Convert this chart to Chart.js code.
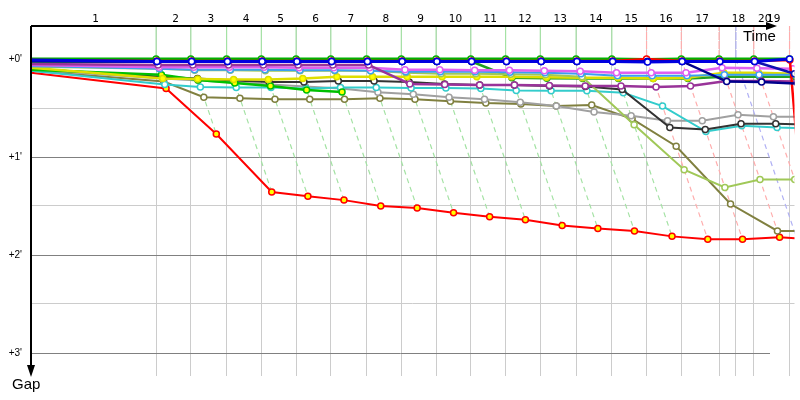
<!DOCTYPE html>
<html><head><meta charset="utf-8">
<script src="https://cdn.jsdelivr.net/npm/chart.js@4.4.1/dist/chart.umd.min.js"></script>
<style>html,body{margin:0;padding:0;background:#fff;overflow:hidden}#wrap{width:800px;height:400px}</style>
</head><body><div id="wrap"><canvas id="c" width="800" height="400"></canvas></div>
<script>
// ---- data ----
const lapNumbers = [1,2,3,4,5,6,7,8,9,10,11,12,13,14,15,16,17,18,19,20];
// leader's elapsed time (minutes) at the end of each lap
const lapTimes = [3.761,4.806,5.881,6.925,7.970,9.015,10.090,11.134,12.179,13.224,14.269,15.313,16.388,17.463,18.507,19.552,20.687,21.731,22.806,21.194];
const lapFlags = ['g','g','g','g','g','g','g','g','g','g','g','g','g','g','r','r','r','r','r','b'];
const gapTicks = [0,0.5,1,1.5,2,2.5,3];
const gapLabels = ["+0'","","+1'","","+2'","","+3'"];

// gap to leader (minutes): [start, lap1 .. lap19 (, lap20)]
const gapsGreen  = [0,    0,0,0,0,0,0,0,0,0,0,0,0,0,0,0.005,0,0,0,0];
const gapsRed2   = [0.01, 0.02,0.02,0.02,0.02,0.02,0.02,0.02,0.02,0.02,0.02,0.02,0.02,0.02,0.02,0,0.02,0.02,0.02,0.01,2.16];
const gapsNavy   = [0.02, 0.025,0.025,0.025,0.025,0.025,0.025,0.025,0.025,0.025,0.025,0.025,0.025,0.025,0.025,0.025,0.025,0.23,0.235,0.25];
const gapsBlue2  = [0.02, 0.025,0.025,0.025,0.025,0.025,0.025,0.025,0.025,0.025,0.025,0.025,0.025,0.025,0.025,0.025,0.025,0.025,0.025,0.15];
const gapsBlue   = [0.01, 0.025,0.025,0.025,0.025,0.025,0.025,0.025,0.025,0.025,0.025,0.025,0.025,0.025,0.025,0.03,0.025,0.025,0.025,0];
const gapsPurple = [0.05, 0.06,0.06,0.06,0.06,0.06,0.06,0.06,0.255,0.26,0.265,0.265,0.27,0.275,0.275,0.285,0.275,0.225,0.225,0.23];
const gapsViolet = [0.06, 0.085,0.085,0.085,0.085,0.09,0.09,0.09,0.11,0.11,0.115,0.115,0.12,0.125,0.14,0.14,0.14,0.09,0.095,0.1];
const gapsSky    = [0.07, 0.1,0.11,0.11,0.11,0.115,0.115,0.12,0.13,0.13,0.13,0.135,0.14,0.15,0.17,0.17,0.17,0.16,0.16,0.16];
const gapsKhaki  = [0.08, 0.1,0.115,0.115,0.12,0.12,0.12,0.12,0.14,0.15,0.15,0.155,0.16,0.18,0.67,1.13,1.31,1.23,1.23,1.23];
const gapsYellow = [0.09, 0.2,0.205,0.21,0.21,0.2,0.18,0.18,0.18,0.18,0.18,0.18,0.185,0.19,0.19,0.2,0.19,0.14,0.14,0.15];
const gapsGreen2 = [0.03, 0.025,0.025,0.025,0.025,0.025,0.025,0.025,0.025,0.025,0.025,0.19,0.195,0.2,0.2,0.2,0.2,0.18,0.18,0.18];
const gapsGreen3 = [0.11, 0.16,0.215,0.245,0.276,0.316,0.337];
const gapsBlack  = [0.1,  0.18,0.2,0.22,0.235,0.235,0.225,0.225,0.235,0.255,0.265,0.265,0.275,0.28,0.31,0.70,0.72,0.66,0.66,0.67];
const gapsCyan   = [0.12, 0.26,0.285,0.29,0.29,0.30,0.29,0.29,0.295,0.295,0.30,0.32,0.325,0.325,0.345,0.48,0.74,0.68,0.70,0.71];
const gapsGray   = [0.11, 0.2,0.22,0.24,0.26,0.28,0.30,0.34,0.36,0.39,0.41,0.44,0.48,0.54,0.58,0.63,0.63,0.57,0.59,0.59];
const gapsOlive  = [0.12, 0.23,0.39,0.40,0.41,0.41,0.41,0.40,0.41,0.43,0.45,0.46,0.48,0.47,0.61,0.89,1.48,1.755,1.755,1.76];
const gapsRed    = [0.14, 0.30,0.765,1.357,1.40,1.44,1.50,1.52,1.57,1.61,1.64,1.70,1.73,1.755,1.81,1.84,1.84,1.82,1.84,1.85];

// ---- styles ----
const series = [
  {gaps:gapsRed,    color:'#ff0000', fill:'#ffff00', w:2},
  {gaps:gapsOlive,  color:'#808040', fill:'#ffffff', w:2},
  {gaps:gapsGray,   color:'#a0a0a0', fill:'#ffffff', w:2},
  {gaps:gapsCyan,   color:'#33cccc', fill:'#ffffff', w:2},
  {gaps:gapsBlack,  color:'#333333', fill:'#ffffff', w:2},
  {gaps:gapsGreen3, color:'#00c000', fill:'#ffff00', w:2.5},
  {gaps:gapsGreen2, color:'#22a022', fill:'#ffff00', w:2.5},
  {gaps:gapsYellow, color:'#dede00', fill:'#ffff00', w:2.5},
  {gaps:gapsKhaki,  color:'#a0c858', fill:'#ffffff', w:2},
  {gaps:gapsSky,    color:'#3aa0f0', fill:'#ffffff', w:2},
  {gaps:gapsViolet, color:'#e060f0', fill:'#ffffff', w:2.5},
  {gaps:gapsPurple, color:'#993399', fill:'#ffffff', w:2.5},
  {gaps:gapsGreen,  color:'#00b000', fill:'#ffffff', w:3},
  {gaps:gapsRed2,   color:'#ff0000', fill:'#ffffff', w:2.5},
  {gaps:gapsBlue2,  color:'#1010b0', fill:'#ffffff', w:2.5},
  {gaps:gapsNavy,   color:'#00008c', fill:'#ffffff', w:2.5},
  {gaps:gapsBlue,   color:'#0000e0', fill:'#ffffff', w:3}
];
const flagColors = {g:'#a4e2a4', r:'#ffadad', b:'#b0b0f4'};

const xMax = 22.955, yMin = -0.337, yMax = 3.235;
const labelPositions = lapTimes.map((t,i) => {
  const prev = i === 0 ? 0 : lapTimes[i-1];
  return (prev + t) / 2;
});

const datasets = [];
// lap lines
lapTimes.forEach((t, k) => {
  let gmax = 0;
  series.forEach(s => { const g = s.gaps[k+1]; if (g != null && g > gmax) gmax = g; });
  const flag = lapFlags[k];
  datasets.push({
    data: [{x:t, y:yMin}, {x:t, y:0}, {x:t+gmax, y:gmax}],
    borderColor: flagColors[flag], borderWidth: 1.2, pointRadius: 0, order: 100,
    segment: {borderDash: ctx => (flag === 'g' && ctx.p0DataIndex === 0) ? [] : [5,4]}
  });
});
// cars
series.forEach((s, i) => {
  const pts = [];
  s.gaps.forEach((g, k) => {
    if (g == null) return;
    pts.push({x: k === 0 ? 0 : lapTimes[k-1] + g, y: g});
  });
  datasets.push({
    data: pts, borderColor: s.color, borderWidth: s.w, tension: 0,
    pointRadius: ctx => ctx.dataIndex === 0 ? 0 : 3,
    pointBorderWidth: 1.5, pointBackgroundColor: s.fill, pointBorderColor: s.color,
    order: 50 - i
  });
});

const decor = {
  id: 'decor',
  beforeDatasetsDraw(chart) {
    const {ctx, chartArea: a, scales: {y}} = chart;
    ctx.save();
    ctx.strokeStyle = '#808080'; ctx.lineWidth = 1;
    gapTicks.forEach(v => {
      if (!Number.isInteger(v)) return;
      const py = Math.round(y.getPixelForValue(v)) + 0.5;
      ctx.beginPath(); ctx.moveTo(a.left, py); ctx.lineTo(770, py); ctx.stroke();
    });
    ctx.restore();
  },
  afterDraw(chart) {
    const {ctx, chartArea: a} = chart;
    ctx.save();
    ctx.strokeStyle = '#000'; ctx.fillStyle = '#000'; ctx.lineWidth = 2;
    // time axis
    ctx.beginPath(); ctx.moveTo(a.left, a.top); ctx.lineTo(768, a.top); ctx.stroke();
    ctx.beginPath(); ctx.moveTo(766, a.top-4); ctx.lineTo(777, a.top); ctx.lineTo(766, a.top+4); ctx.closePath(); ctx.fill();
    // gap axis
    ctx.beginPath(); ctx.moveTo(a.left, a.top); ctx.lineTo(a.left, 367); ctx.stroke();
    ctx.beginPath(); ctx.moveTo(a.left-4, 365); ctx.lineTo(a.left, 377); ctx.lineTo(a.left+4, 365); ctx.closePath(); ctx.fill();
    ctx.font = '15px "Liberation Sans"';
    ctx.textBaseline = 'alphabetic'; ctx.textAlign = 'left';
    ctx.fillText('Time', 743, 41);
    ctx.fillText('Gap', 12, 389);
    ctx.restore();
  }
};

new Chart(document.getElementById('c'), {
  type: 'line',
  data: {datasets},
  plugins: [decor],
  options: {
    responsive: false, animation: false, devicePixelRatio: 1,
    layout: {padding: 0},
    plugins: {legend: {display: false}, tooltip: {enabled: false}},
    scales: {
      x: {type: 'linear', position: 'bottom', min: 0, max: xMax,
          afterBuildTicks: s => { s.ticks = lapTimes.map(v => ({value: v})); },
          afterFit: s => { s.height = 24; },
          ticks: {display: false}, border: {display: false},
          grid: {color: '#cccccc', lineWidth: 1, drawTicks: false}},
      xTop: {type: 'linear', position: 'top', min: 0, max: xMax,
          afterBuildTicks: s => { s.ticks = labelPositions.map(v => ({value: v})); },
          afterFit: s => { s.height = 26; },
          ticks: {autoSkip: false, maxRotation: 0, padding: 0, labelOffset: 2, color: '#000',
                  font: {family: 'DejaVu Sans', size: 10.5},
                  callback: (v, i) => String(lapNumbers[i])},
          grid: {display: false, drawTicks: false}, border: {display: false}},
      y: {type: 'linear', reverse: true, min: yMin, max: yMax,
          afterBuildTicks: s => { s.ticks = gapTicks.map(v => ({value: v})); },
          afterFit: s => { s.width = 31; },
          ticks: {autoSkip: false, padding: 9, color: '#000',
                  font: {family: 'Liberation Sans', size: 10},
                  callback: (v, i) => gapLabels[i]},
          grid: {drawTicks: false, color: c => (c.tick && Number.isInteger(c.tick.value)) ? 'rgba(0,0,0,0)' : '#cccccc'},
          border: {display: false}}
    }
  }
});
</script></body></html>
